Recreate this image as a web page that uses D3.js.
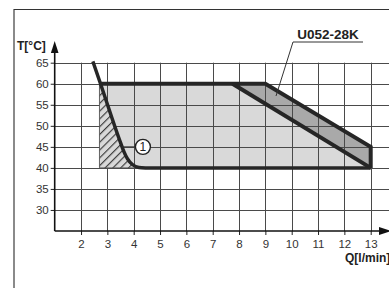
<!DOCTYPE html>
<html>
<head>
<meta charset="utf-8">
<script src="https://cdn.jsdelivr.net/npm/d3@7"></script>
<style>
  html, body { margin: 0; padding: 0; background: #fff; }
  svg { display: block; font-family: "Liberation Sans", Arial, sans-serif; }
</style>
</head>
<body>
<div id="chart"></div>
<script>
const width = 389;
const height = 288;

// axis ticks
const qTicks = [2, 3, 4, 5, 6, 7, 8, 9, 10, 11, 12, 13];
const tTicks = [30, 35, 40, 45, 50, 55, 60, 65];

// working range (light gray), [Q, T]
const envelope = [[2.7, 60], [9, 60], [13, 45], [13, 40], [2.7, 40]];
// U052-28K band (dark gray)
const band = [[7.75, 60], [9, 60], [13, 45], [13, 40]];
// limit curve (1)
const limitCurve = [[2.45, 65.3], [2.74, 60], [3.5, 46], [3.62, 44], [3.76, 42.2], [3.95, 40.8], [4.2, 40.1], [4.45, 40]];
const hatchCurve = [[2.74, 60], [3.5, 46], [3.62, 44], [3.76, 42.2], [3.95, 40.8], [4.2, 40.1], [4.45, 40]];

const x = d3.scaleLinear().domain([1, 13]).range([54.7, 370.7]);
const y = d3.scaleLinear().domain([25, 65]).range([231, 62.7]);

const svg = d3.select("#chart")
  .append("svg")
  .attr("width", width)
  .attr("height", height);

const defs = svg.append("defs");
defs.append("pattern")
  .attr("id", "hatch")
  .attr("patternUnits", "userSpaceOnUse")
  .attr("width", 5.5)
  .attr("height", 5.5)
  .attr("patternTransform", "rotate(45)")
  .call(p => {
    p.append("rect").attr("width", 5.5).attr("height", 5.5).attr("fill", "#d9d9d9");
    p.append("line").attr("x1", 0.6).attr("y1", 0).attr("x2", 0.6).attr("y2", 5.5)
      .attr("stroke", "#333").attr("stroke-width", 1.1);
  });

// frame
svg.append("line").attr("x1", 14).attr("x2", 14).attr("y1", 9).attr("y2", height)
  .attr("stroke", "#8a8a8a").attr("stroke-width", 2);
svg.append("line").attr("x1", 14).attr("x2", width).attr("y1", 9.5).attr("y2", 9.5)
  .attr("stroke", "#333").attr("stroke-width", 1.2);

const line = d3.line().x(d => x(d[0])).y(d => y(d[1]));
const curveLine = d3.line().x(d => x(d[0])).y(d => y(d[1])).curve(d3.curveMonotoneX);

// fills
svg.append("path")
  .attr("d", line(envelope) + "Z")
  .attr("fill", "#d9d9d9");
svg.append("path")
  .attr("d", line(band) + "Z")
  .attr("fill", "#a9a9a9");

// grid
const grid = svg.append("g").attr("stroke", "#4a4a4a").attr("stroke-width", 1);
grid.selectAll(".h").data(tTicks).enter().append("line")
  .attr("x1", x(1)).attr("x2", width)
  .attr("y1", d => Math.round(y(d)) + 0.5).attr("y2", d => Math.round(y(d)) + 0.5);
grid.selectAll(".v").data(qTicks).enter().append("line")
  .attr("y1", y(65)).attr("y2", y(25))
  .attr("x1", d => Math.round(x(d)) + 0.5).attr("x2", d => Math.round(x(d)) + 0.5);

// hatched zone
const hatchPath = curveLine(hatchCurve) + "L" + x(2.7) + "," + y(40) + "L" + x(2.7) + "," + y(60) + "Z";
svg.append("path")
  .attr("d", hatchPath)
  .attr("fill", "url(#hatch)")
  .attr("stroke", "#555")
  .attr("stroke-width", 0.9);

// axes
const yAxis = svg.append("g")
  .attr("transform", "translate(" + x(1) + ",0)")
  .call(d3.axisLeft(y).tickValues(tTicks).tickSize(4).tickPadding(2));
const xAxis = svg.append("g")
  .attr("transform", "translate(0," + y(25) + ")")
  .call(d3.axisBottom(x).tickValues(qTicks).tickSize(4).tickPadding(5));
[yAxis, xAxis].forEach(a => {
  a.select(".domain").remove();
  a.selectAll(".tick line").attr("stroke", "#222");
  a.selectAll(".tick text").attr("fill", "#333").style("font-size", "11.5px")
    .style("font-family", "'Liberation Sans', Arial, sans-serif");
});
svg.append("line").attr("x1", x(1)).attr("x2", x(1)).attr("y1", y(25)).attr("y2", 50)
  .attr("stroke", "#111").attr("stroke-width", 1.6);
svg.append("line").attr("x1", x(1)).attr("x2", 382).attr("y1", y(25)).attr("y2", y(25))
  .attr("stroke", "#111").attr("stroke-width", 1.6);
svg.append("path").attr("d", "M" + x(1) + ",41 L" + (x(1) - 3.8) + ",53 L" + (x(1) + 3.8) + ",53 Z").attr("fill", "#111");
svg.append("path").attr("d", "M391," + y(25) + " L379," + (y(25) - 4) + " L379," + (y(25) + 4) + " Z").attr("fill", "#111");

svg.append("text").attr("x", 17).attr("y", 50)
  .attr("font-weight", "bold").attr("font-size", 12).attr("fill", "#222").text("T[°C]");
svg.append("text").attr("x", 345).attr("y", 262)
  .attr("font-weight", "bold").attr("font-size", 12).attr("fill", "#222").text("Q[l/min]");

// thick outlines
const thick = "#262626";
svg.append("path")
  .attr("d", line([[2.7, 60], [9, 60], [13, 45], [13, 40]]))
  .attr("fill", "none").attr("stroke", thick).attr("stroke-width", 4).attr("stroke-linejoin", "miter");
svg.append("path")
  .attr("d", line([[7.75, 60], [13, 40]]))
  .attr("fill", "none").attr("stroke", thick).attr("stroke-width", 4);
svg.append("path")
  .attr("d", curveLine(limitCurve) + "L" + x(13) + "," + y(40))
  .attr("fill", "none").attr("stroke", thick).attr("stroke-width", 3.5);

// marker 1
svg.append("line").attr("x1", x(3.55)).attr("x2", x(4.35) - 7)
  .attr("y1", y(45)).attr("y2", y(45)).attr("stroke", "#333").attr("stroke-width", 1);
svg.append("circle").attr("cx", x(4.35)).attr("cy", y(45)).attr("r", 7.5)
  .attr("fill", "#fff").attr("stroke", "#222").attr("stroke-width", 1.4);
svg.append("text").attr("x", x(4.35)).attr("y", y(45) + 4.3).attr("text-anchor", "middle")
  .attr("font-size", 12).attr("fill", "#222").text("1");

// U052-28K label
svg.append("line").attr("x1", 293).attr("x2", 276).attr("y1", 42).attr("y2", 96)
  .attr("stroke", "#333").attr("stroke-width", 1);
svg.append("line").attr("x1", 293).attr("x2", 363).attr("y1", 42).attr("y2", 42)
  .attr("stroke", "#333").attr("stroke-width", 1);
svg.append("text").attr("x", 328).attr("y", 39).attr("text-anchor", "middle")
  .attr("font-weight", "bold").attr("font-size", 13.5).attr("fill", "#222").text("U052-28K");
</script>
</body>
</html>
